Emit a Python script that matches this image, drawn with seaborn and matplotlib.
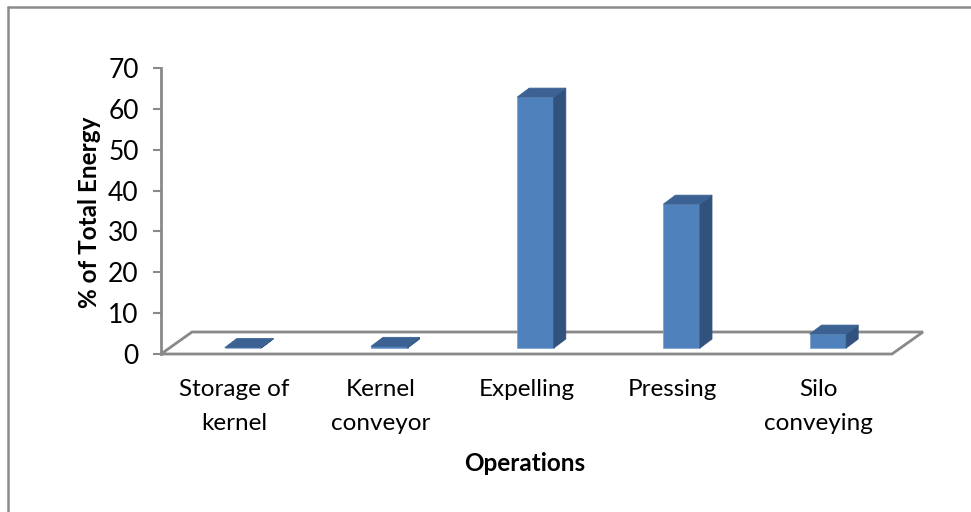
import matplotlib
matplotlib.use("Agg")
import matplotlib.pyplot as plt
import seaborn as sns
import pandas as pd
import numpy as np
from matplotlib.patches import Polygon
from matplotlib.lines import Line2D

categories = ["Storage of\nkernel", "Kernel\nconveyor", "Expelling", "Pressing", "Silo\nconveying"]
values = [0.1, 0.4, 61.4, 35.2, 3.4]
yticks = [0, 10, 20, 30, 40, 50, 60, 70]

sns.set_theme(style="white")
plt.rcParams['font.family'] = ['Lato', 'DejaVu Sans']

W, H = 971, 512
fig = plt.figure(figsize=(W / 100, H / 100), dpi=100)
ax = fig.add_axes([161 / W, (H - 354) / H, (892 - 161) / W, (354 - 68) / H])

df = pd.DataFrame({"cat": categories, "val": values})
front = "#4F81BD"
side = "#30527D"
top = "#3B6293"
grey = "#898989"

sns.barplot(data=df, x="cat", y="val", width=0.25, color=front, saturation=1,
            ax=ax, zorder=3)
ax.set_xlim(-0.5, 4.5)
ax.set_ylim(0, 70)
ax.set_yticks(yticks)

fig.canvas.draw()
to_disp = ax.transData.transform
to_data = ax.transData.inverted().transform

# bar depth offsets (pixels)
bx, by = 9, 6          # position of front face inside floor depth
dx, dy = 12, 9         # bar depth

for p in list(ax.patches):
    x0 = p.get_x(); w = p.get_width(); h = p.get_height()
    (X0, Y0) = to_disp((x0, 0)); (X1, Y1) = to_disp((x0 + w, h))
    X0 += bx; X1 += bx; Y0 += by; Y1 += by
    fr = [(X0, Y0), (X1, Y0), (X1, Y1), (X0, Y1)]
    sd = [(X1, Y0), (X1 + dx, Y0 + dy), (X1 + dx, Y1 + dy), (X1, Y1)]
    tp = [(X0, Y1), (X1, Y1), (X1 + dx, Y1 + dy), (X0 + dx, Y1 + dy)]
    p.set_visible(False)
    ax.add_patch(Polygon(to_data(fr), closed=True, facecolor=front, edgecolor="#7FA3CF",
                         lw=0.6, zorder=4, clip_on=False))
    ax.add_patch(Polygon(to_data(sd), closed=True, facecolor=side, edgecolor=side,
                         lw=0.6, zorder=4, clip_on=False))
    ax.add_patch(Polygon(to_data(tp), closed=True, facecolor=top, edgecolor=top,
                         lw=0.6, zorder=5, clip_on=False))

# floor
fx, fy = 31, 22
(A0, B0) = to_disp((-0.5, 0)); (A1, _) = to_disp((4.5, 0))
floor = [(A0, B0), (A1, B0), (A1 + fx, B0 + fy), (A0 + fx, B0 + fy), (A0, B0)]
fl = to_data(floor)
ax.plot(fl[:, 0], fl[:, 1], color=grey, lw=2.0, zorder=2, clip_on=False,
        solid_joinstyle="miter")

for s in ["top", "right", "bottom"]:
    ax.spines[s].set_visible(False)
ax.spines["left"].set_color(grey)
ax.spines["left"].set_linewidth(2.0)
ax.tick_params(axis="y", which="both", left=True, length=6, width=1.5, color=grey,
               pad=10, labelsize=19, labelcolor="black")
ax.tick_params(axis="x", length=0, pad=18, labelsize=17.5, labelcolor="black")
for t in ax.get_xticklabels():
    t.set_linespacing(1.75)

ax.set_xlabel("Operations", fontsize=17.5, fontweight="bold", color="black")
ax.set_ylabel("% of Total Energy", fontsize=17.5, fontweight="bold", color="black")
ax.xaxis.set_label_coords((525 - 161) / 731, (354 - 452) / 286)
ax.yaxis.set_label_coords((101 - 161) / 731, 0.5 + (354 - 212 - 143) / 286)

fig.add_artist(Line2D([8 / W, 1.0], [1 - 7 / H, 1 - 7 / H], color="#8C8C8C", lw=1.8))
fig.add_artist(Line2D([8 / W, 8 / W], [0.0, 1 - 7 / H], color="#8C8C8C", lw=1.8))

fig.savefig("out.png", dpi=100, facecolor="white")
